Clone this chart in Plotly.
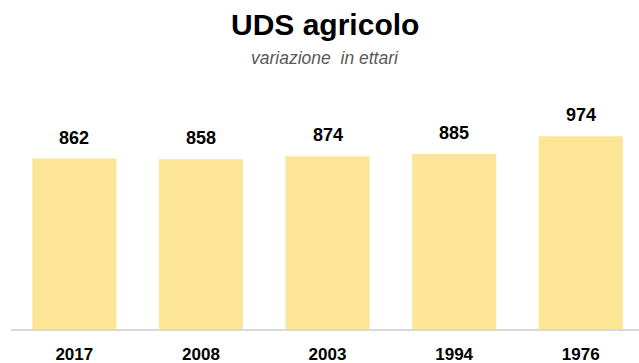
import plotly.graph_objects as go

years = ["2017", "2008", "2003", "1994", "1976"]
values = [862, 858, 874, 885, 974]

BAR_COLOR = "#FDE596"
FONT = "Liberation Sans, Arial, sans-serif"

fig = go.Figure()
fig.add_trace(go.Bar(
    x=years, y=values,
    marker=dict(color=BAR_COLOR, line=dict(width=0)),
    width=0.664,
    hoverinfo="skip",
))

for i, v in enumerate(values):
    fig.add_annotation(
        x=i, y=v, text=f"<b>{v}</b>", showarrow=False,
        yanchor="bottom", yshift=9,
        font=dict(family=FONT, size=18, color="#000000"),
    )

fig.add_annotation(
    x=0.5, xref="paper", y=1.221, yref="paper", yanchor="middle", xanchor="center",
    text="<b>UDS agricolo</b>", showarrow=False,
    font=dict(family=FONT, size=30, color="#000000"),
)
fig.add_annotation(
    x=0.5, xref="paper", y=1.088, yref="paper", yanchor="middle", xanchor="center",
    text="<i>variazione  in ettari</i>", showarrow=False,
    font=dict(family=FONT, size=17.5, color="#595959"),
)

fig.update_layout(
    width=639, height=363,
    margin=dict(l=11, r=0, t=80, b=34, autoexpand=False),
    paper_bgcolor="white", plot_bgcolor="white",
    showlegend=False,
    xaxis=dict(
        type="category", range=[-0.5, 4.46],
        showgrid=False, zeroline=False,
        showline=True, linecolor="#D9D9D9", linewidth=1.5,
        ticks="", ticklabelstandoff=9, automargin=False,
        tickfont=dict(family=FONT, size=17, color="#000000", weight="bold"),
    ),
    yaxis=dict(
        range=[0, 1259], visible=False, showgrid=False, zeroline=False,
    ),
)

fig.write_html("out.html", config={"displayModeBar": False},
               post_script="document.body.style.margin='0';")
